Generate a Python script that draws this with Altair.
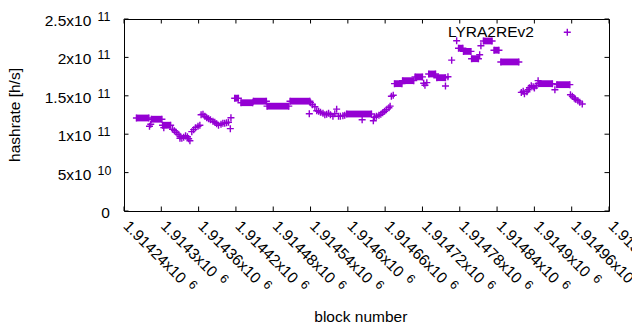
import altair as alt
import pandas as pd

# ---------------- data ----------------
# dense runs of points (first block, last block, hashrate)
seg_start = [1914260, 1914284, 1914302, 1914418, 1914428, 1914448, 1914470, 1914507,
             1914598, 1914675, 1914688, 1914708, 1914730, 1914743, 1914778, 1914786,
             1914799, 1914818, 1914835, 1914846, 1914906, 1914936]
seg_end = [1914280, 1914301, 1914315, 1914424, 1914447, 1914469, 1914505, 1914539,
           1914638, 1914687, 1914706, 1914720, 1914741, 1914757, 1914785, 1914798,
           1914810, 1914832, 1914843, 1914875, 1914929, 1914957]
seg_hash = [1.211e11, 1.195e11, 1.117e11, 1.469e11, 1.410e11, 1.430e11, 1.365e11, 1.430e11,
            1.263e11, 1.658e11, 1.697e11, 1.746e11, 1.784e11, 1.736e11, 2.120e11, 2.078e11,
            1.983e11, 2.214e11, 2.094e11, 1.941e11, 1.658e11, 1.645e11]

# single points
pt_block = [1914281, 1914283, 1914304, 1914318, 1914321, 1914324, 1914327, 1914330, 1914333, 1914336,
            1914339, 1914342, 1914344, 1914346, 1914330, 1914349, 1914352, 1914355, 1914359, 1914362,
            1914364, 1914367, 1914370, 1914373, 1914376, 1914379, 1914383, 1914386, 1914389, 1914392,
            1914396, 1914399, 1914402, 1914405, 1914408, 1914412, 1914411, 1914540, 1914543, 1914547,
            1914538, 1914550, 1914553, 1914556, 1914560, 1914563, 1914566, 1914569, 1914572, 1914576,
            1914579, 1914582, 1914585, 1914588, 1914592, 1914595, 1914623, 1914641, 1914643, 1914646,
            1914650, 1914653, 1914656, 1914659, 1914662, 1914666, 1914668, 1914670, 1914673, 1914722,
            1914724, 1914727, 1914757, 1914761, 1914767, 1914775, 1914812, 1914814, 1914879, 1914882,
            1914884, 1914888, 1914890, 1914892, 1914895, 1914898, 1914900, 1914903, 1914906, 1914933,
            1914958, 1914961, 1914964, 1914966, 1914970, 1914973, 1914977]
pt_hash = [1.104e11, 1.130e11, 1.085e11, 1.065e11, 1.046e11, 1.026e11, 1.000e11, 0.974e11, 0.948e11, 0.961e11,
           0.980e11, 0.967e11, 0.941e11, 0.915e11, 0.948e11, 1.033e11, 1.059e11, 1.085e11, 1.104e11, 1.117e11,
           1.254e11, 1.260e11, 1.234e11, 1.215e11, 1.202e11, 1.189e11, 1.169e11, 1.156e11, 1.137e11, 1.117e11,
           1.130e11, 1.143e11, 1.143e11, 1.150e11, 1.156e11, 1.215e11, 1.072e11, 1.410e11, 1.384e11, 1.358e11,
           1.267e11, 1.306e11, 1.299e11, 1.286e11, 1.273e11, 1.254e11, 1.260e11, 1.273e11, 1.254e11, 1.234e11,
           1.267e11, 1.326e11, 1.234e11, 1.234e11, 1.241e11, 1.247e11, 1.189e11, 1.176e11, 1.221e11, 1.234e11,
           1.247e11, 1.260e11, 1.280e11, 1.299e11, 1.319e11, 1.345e11, 1.365e11, 1.495e11, 1.508e11, 1.664e11,
           1.638e11, 1.671e11, 1.628e11, 1.749e11, 1.964e11, 2.217e11, 2.035e11, 2.152e11, 1.544e11, 1.560e11,
           1.527e11, 1.553e11, 1.579e11, 1.605e11, 1.632e11, 1.618e11, 1.602e11, 1.632e11, 1.697e11, 1.579e11,
           1.514e11, 1.495e11, 1.471e11, 1.456e11, 1.436e11, 1.417e11, 1.393e11]

x_ticks = [1914240, 1914300, 1914360, 1914420, 1914480, 1914540, 1914600,
           1914660, 1914720, 1914780, 1914840, 1914900, 1914960, 1915020]
x_tick_mant = ["1.91424", "1.9143", "1.91436", "1.91442", "1.91448", "1.91454", "1.9146",
               "1.91466", "1.91472", "1.91478", "1.91484", "1.9149", "1.91496", "1.91502"]
x_tick_exp = "6"
y_ticks = [0, 5e10, 1e11, 1.5e11, 2e11, 2.5e11]
y_tick_base = ["0", "5x10", "1x10", "1.5x10", "2x10", "2.5x10"]
y_tick_exp = ["", "10", "11", "11", "11", "11"]

series_name = "LYRA2REv2"
x_title = "block number"
y_title = "hashrate [h/s]"

# ---------------- styling ----------------
W, H = 485, 192
FONT = "Liberation Sans"
FS = 15.5
EFS = 12.4
COLOR = "#9400D3"
PLUS = "M-1,0L1,0M0,-1L0,1"
TICK = 4.5
XDX = 3.0          # along-text shift of the rotated x labels

xs = alt.Scale(domain=[x_ticks[0], x_ticks[-1]], nice=False, zero=False)
ys = alt.Scale(domain=[y_ticks[0], y_ticks[-1]], nice=False, zero=False)

segs = pd.DataFrame({"s": seg_start, "e": seg_end, "v": seg_hash})
pts = pd.DataFrame({"b": pt_block + seg_start + seg_end, "v": pt_hash + seg_hash + seg_hash})
xt = pd.DataFrame({"t": x_ticks, "m": [m + "x10" for m in x_tick_mant],
                   "n": [len(m) for m in x_tick_mant]})
yt = pd.DataFrame({"t": y_ticks, "b": y_tick_base, "e": y_tick_exp})
one = pd.DataFrame({"a": [0]})

X = lambda f: alt.X(f, scale=xs, axis=None)
Y = lambda f: alt.Y(f, scale=ys, axis=None)

band = alt.Chart(segs).mark_rule(color=COLOR, strokeWidth=6.8, strokeCap="butt").encode(
    x=X("s:Q"), x2="e:Q", y=Y("v:Q"))
marks = alt.Chart(pts).mark_point(shape=PLUS, size=49, filled=False, color=COLOR,
                                  strokeWidth=1.4, opacity=1).encode(x=X("b:Q"), y=Y("v:Q"))

xt_bot = alt.Chart(xt).mark_rule(color="black", strokeWidth=1).encode(
    x=X("t:Q"), y=alt.value(H), y2=alt.value(H - TICK))
xt_top = alt.Chart(xt).mark_rule(color="black", strokeWidth=1).encode(
    x=X("t:Q"), y=alt.value(0), y2=alt.value(TICK))
yt_l = alt.Chart(yt).mark_rule(color="black", strokeWidth=1).encode(
    y=Y("t:Q"), x=alt.value(0), x2=alt.value(TICK))
yt_r = alt.Chart(yt).mark_rule(color="black", strokeWidth=1).encode(
    y=Y("t:Q"), x=alt.value(W), x2=alt.value(W - TICK))

txt = dict(font=FONT, color="black")
xl = alt.Chart(xt).mark_text(angle=45, align="left", baseline="middle", fontSize=FS,
                             dx=XDX, **txt).encode(
    x=X("t:Q"), y=alt.value(H + 10.3), text="m:N")
xe7 = alt.Chart(xt).transform_filter("datum.n == 7").mark_text(
    angle=45, align="left", baseline="middle", fontSize=EFS, dx=87.4 + XDX, dy=-3.9, **txt).encode(
    x=X("t:Q"), y=alt.value(H + 10.3), text=alt.value(x_tick_exp))
xe6 = alt.Chart(xt).transform_filter("datum.n == 6").mark_text(
    angle=45, align="left", baseline="middle", fontSize=EFS, dx=78.8 + XDX, dy=-3.9, **txt).encode(
    x=X("t:Q"), y=alt.value(H + 10.3), text=alt.value(x_tick_exp))

yl = alt.Chart(yt).transform_filter("datum.e != ''").mark_text(
    align="right", baseline="middle", fontSize=FS, dy=2, **txt).encode(
    x=alt.value(-32.7), y=Y("t:Q"), text="b:N")
yl0 = alt.Chart(yt).transform_filter("datum.e == ''").mark_text(
    align="right", baseline="middle", fontSize=FS, dy=2, **txt).encode(
    x=alt.value(-14.1), y=Y("t:Q"), text="b:N")
ye = alt.Chart(yt).transform_filter("datum.e != ''").mark_text(
    align="left", baseline="middle", fontSize=EFS, dy=-2, **txt).encode(
    x=alt.value(-26.4), y=Y("t:Q"), text="e:N")

ytitle = alt.Chart(one).mark_text(angle=270, align="center", baseline="middle", fontSize=FS, **txt).encode(
    x=alt.value(-108.6), y=alt.value(H / 2), text=alt.value(y_title))
xtitle = alt.Chart(one).mark_text(align="center", baseline="alphabetic", fontSize=FS, **txt).encode(
    x=alt.value(236.8), y=alt.value(302.5), text=alt.value(x_title))

leg_t = alt.Chart(one).mark_text(align="right", baseline="middle", fontSize=FS, **txt).encode(
    x=alt.value(409.9), y=alt.value(13.2), text=alt.value(series_name))
leg_p = alt.Chart(one).mark_point(shape=PLUS, size=49, filled=False, color=COLOR,
                                  strokeWidth=1.4, opacity=1).encode(
    x=alt.value(443.3), y=alt.value(13.3))

chart = alt.layer(
    band, marks, xt_bot, xt_top, yt_l, yt_r, xl, xe7, xe6, yl, yl0, ye,
    ytitle, xtitle, leg_t, leg_p,
).properties(
    width=W, height=H,
    autosize=alt.AutoSizeParams(type="none"),
    padding={"left": 116, "top": 11, "right": 23, "bottom": 111},
    background="white",
).configure_view(stroke="black", strokeWidth=1)

chart.save("out.html", embed_options={"renderer": "svg", "actions": False})
